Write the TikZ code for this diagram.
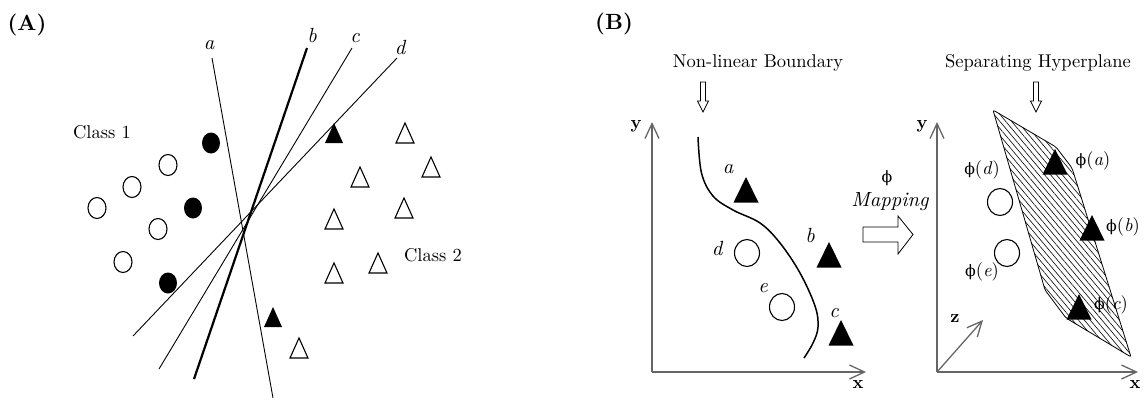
\RequirePackage{fix-cm}
\documentclass[tikz,border=0pt]{standalone}
\usepackage{fontspec}
\setmainfont{lmroman10-regular.otf}[
  BoldFont=lmroman10-bold.otf,
  ItalicFont=lmroman10-italic.otf,
  BoldItalicFont=lmroman10-bolditalic.otf]
\newfontfamily\grk{DejaVu Serif}[Scale=0.85]
\newcommand{\fmap}[1]{{\grk ϕ}(\textit{#1})}
\usetikzlibrary{arrows.meta,patterns.meta}

\begin{document}
\begin{tikzpicture}[x=1pt,y=-1pt,
  txt/.style={font=\fontsize{18.5}{20}\selectfont, inner sep=0pt},
  lbl/.style={font=\fontsize{20.5}{22}\selectfont\itshape, inner sep=0pt},
  panel/.style={font=\fontsize{22}{24}\selectfont\bfseries, inner sep=0pt},
  axlbl/.style={font=\fontsize{18}{20}\selectfont\bfseries, inner sep=0pt},
  axis/.style={draw=black!60, line width=1.3pt, -{Straight Barb[length=15pt,width=14pt]}},
  sepline/.style={line width=0.9pt},
  hollow/.style={draw, line width=0.8pt, fill=white},
  tri/.pic={\path[pic actions] (0,-10) -- (9,10) -- (-9,10) -- cycle;},
  bigtri/.pic={\path[pic actions] (0,-13) -- (12.5,12.5) -- (-12.5,12.5) -- cycle;},
  dot/.pic={\path[pic actions] (0,0) ellipse [x radius=9, y radius=10.5];},
  bigdot/.pic={\path[pic actions] (0,0) ellipse [x radius=12.5, y radius=13.5];},
]
\useasboundingbox (0,0) rectangle (1147,400);

% ---------- panel labels ----------
\node[panel] (labA) at (27,25) {(A)};
\node[panel] (labB) at (614,24) {(B)};

% ---------- (A) candidate separating lines ----------
\coordinate (a1) at (212,58);  \coordinate (a2) at (273,398);
\coordinate (b1) at (307,48);  \coordinate (b2) at (194,379);
\coordinate (c1) at (352,48);  \coordinate (c2) at (159,369);
\coordinate (d1) at (397,58);  \coordinate (d2) at (133,336);
\draw[sepline] (a1) -- (a2);
\draw[line width=2.2pt] (b1) -- (b2);
\draw[sepline] (c1) -- (c2);
\draw[sepline] (d1) -- (d2);
\node[lbl] (la) at (209,45) {a};
\node[lbl] (lb) at (312,35) {b};
\node[lbl] (lc) at (355,38) {c};
\node[lbl] (ld) at (400,47) {d};

\node[txt] (cls1) at (102,132) {Class 1};
\node[txt] (cls2) at (433,255) {Class 2};

% class 1 samples
\foreach \p in {(211,143),(193,208),(168,283)}
  \pic[fill=black] at \p {dot};
\foreach \p in {(168,165),(132,187),(97,208),(158,229),(123,262)}
  \pic[draw, line width=1.1pt] at \p {dot};
% class 2 samples
\foreach \p in {(334,133),(273,317)}
  \pic[fill=black] at \p {tri};
\foreach \p in {(405,133),(431,167),(360,177),(404,208),(334,219),(378,263),(334,273),(299,348)}
  \pic[draw, line width=1.1pt] at \p {tri};

% ---------- (B) input space ----------
\node[txt] (nlb) at (758,63) {Non-linear Boundary};
\draw[hollow] (700.5,82) -- (705.5,82) -- (705.5,101) -- (708.5,101) -- (703,112)
  -- (697.5,101) -- (700.5,101) -- cycle;

\coordinate (o1) at (652,372);
\coordinate (y1) at (652,122);
\coordinate (x1) at (866,372);
\draw[axis] (o1) -- (y1);
\draw[axis] (o1) -- (x1);
\node[axlbl] (ly1) at (636,126) {y};
\node[axlbl] (lx1) at (858,384) {x};

\draw[line width=1.5pt] plot[smooth, tension=0.6] coordinates {
  (698,137) (701.5,173) (713,196) (733,210) (760,223) (780,243)
  (800,273) (815,306) (818,327) (813,343) (804,358)};

\foreach \p in {(746,190),(829,255),(841,333)}
  \pic[fill=black] at \p {bigtri};
\foreach \p in {(747,253),(782,307)}
  \pic[draw, line width=1.1pt] at \p {bigdot};
\node[lbl] (pa) at (728,169) {a};
\node[lbl] (pb) at (810,235) {b};
\node[lbl] (pc) at (834,313) {c};
\node[lbl] (pd) at (717,248) {d};
\node[lbl] (pe) at (763,288) {e};

% ---------- mapping ----------
\node[txt] (phi) at (887,178) {\grk ϕ};
\node[lbl] (map) at (890,202) {Mapping};
\draw[hollow] (863,227) -- (898,227) -- (898,216) -- (913,234.5) -- (898,254)
  -- (898,242) -- (863,242) -- cycle;

% ---------- (B) feature space ----------
\node[txt] (shp) at (1038,63) {Separating Hyperplane};
\draw[hollow] (1033.5,82) -- (1038.5,82) -- (1038.5,101) -- (1041.5,101) -- (1036,112)
  -- (1030.5,101) -- (1033.5,101) -- cycle;

\coordinate (o2) at (937,372);
\coordinate (y2) at (937,122);
\coordinate (x2) at (1138,372);
\coordinate (z2) at (983,320);
\draw[axis] (o2) -- (y2);
\draw[axis] (o2) -- (x2);
\draw[axis] (o2) -- (z2);
\node[axlbl] (ly2) at (922,126) {y};
\node[axlbl] (lx2) at (1135,384) {x};
\node[axlbl] (lz2) at (955,318) {z};

\path[draw, line width=0.8pt, rounded corners=2pt,
      pattern={Lines[angle=-50,distance=4.5pt,line width=0.6pt]}]
  (993,110) -- (1056,147) -- (1072,168) -- (1131,357) -- (1066,318) -- (1045,290) -- cycle;

\foreach \p in {(1055,162),(1092,228),(1079,307)}
  \pic[fill=black] at \p {bigtri};
\foreach \p in {(1000,202),(1007,253)}
  \pic[draw, line width=1.1pt] at \p {bigdot};

\node[txt] (fa) at (1093,161) {\fmap{a}};
\node[txt] (fb) at (1123,227) {\fmap{b}};
\node[txt] (fc) at (1111,305) {\fmap{c}};
\node[txt] (fd) at (982,170) {\fmap{d}};
\node[txt] (fe) at (982,272) {\fmap{e}};
\end{tikzpicture}
\end{document}
